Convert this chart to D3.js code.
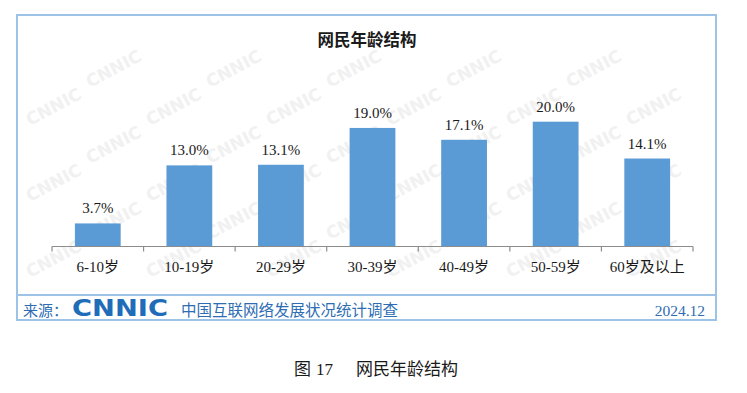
<!DOCTYPE html>
<html><head><meta charset="utf-8">
<script src="https://cdn.jsdelivr.net/npm/d3@7/dist/d3.min.js"></script>
<style>body{margin:0;background:#fff}svg{display:block}</style>
</head><body>
<svg id="c" width="747" height="393"></svg>
<script>
const categories = ["6-10岁","10-19岁","20-29岁","30-39岁","40-49岁","50-59岁","60岁及以上"];
const values = [3.7, 13.0, 13.1, 19.0, 17.1, 20.0, 14.1];
const title = "网民年龄结构";
const sourceLabel = "来源：";
const sourceName = "中国互联网络发展状况统计调查";
const dateLabel = "2024.12";
const captionParts = ["图", "17", "网民年龄结构"];

const svg = d3.select("#c");
const frame = {x0:17, y0:15, x1:716, y1:320, footY:295};

// watermark (decorative), only fully inside the frame
const wm = svg.append("g");
for (let r=0; r<9; r++){
  for (let c=0; c<7; c++){
    const wx = 30 + c*120 + (r%2)*60;
    const wy = 50 + r*38;
    if (wx < frame.x0+4 || wx+62 > frame.x1-4 || wy > frame.y1-6 || wy-36 < frame.y0+4) continue;
    wm.append("text").attr("transform",`translate(${wx},${wy}) rotate(-28)`)
      .attr("font-family","DejaVu Sans").attr("font-weight","bold").attr("font-size",17)
      .attr("fill","#f1f1f1").text("CNNIC");
  }
}

const x = d3.scaleBand().domain(categories).range([52, 693]).paddingInner(0.5).paddingOuter(0.25);
const xb = d3.scaleBand().domain(categories).range([52, 693]);
const y = d3.scaleLinear().domain([0, 20]).range([246.5, 121.7]);

// bars
svg.append("g").selectAll("rect").data(values).join("rect")
  .attr("x",(d,i)=>x(categories[i])).attr("width",x.bandwidth())
  .attr("y",d=>y(d)).attr("height",d=>y(0)-y(d)).attr("fill","#5b9bd5");

// value labels
svg.append("g").selectAll("text").data(values).join("text")
  .attr("x",(d,i)=>x(categories[i])+x.bandwidth()/2).attr("y",d=>y(d)-10)
  .attr("text-anchor","middle").attr("font-family","Liberation Serif, serif").attr("font-size",15)
  .attr("fill","#1a1a1a").text(d=>d.toFixed(1)+"%");

// axis
const ax = svg.append("g").attr("transform",`translate(0,${y(0)})`)
  .call(d3.axisBottom(xb).tickSize(0).tickFormat(""));
ax.select(".domain").attr("stroke","#8c8c8c").attr("stroke-width",1.2).attr("d","M52,0H693");
ax.selectAll(".tick").remove();
const bounds = categories.map(c=>xb(c)).concat([xb(categories[categories.length-1])+xb.bandwidth()]);
ax.selectAll("line.tk").data(bounds).join("line").attr("class","tk")
  .attr("x1",d=>d).attr("x2",d=>d).attr("y1",0).attr("y2",5).attr("stroke","#8c8c8c").attr("stroke-width",1.2);
ax.selectAll("text.cl").data(categories).join("text").attr("class","cl")
  .attr("x",d=>xb(d)+xb.bandwidth()/2).attr("y",25.5).attr("text-anchor","middle")
  .attr("font-family","Liberation Serif, Noto Sans CJK SC, serif").attr("font-size",15)
  .attr("fill","#1a1a1a").text(d=>d);

// title
svg.append("text").attr("x",367).attr("y",46).attr("text-anchor","middle")
  .attr("font-family","Noto Sans CJK SC").attr("font-weight","bold").attr("font-size",16.5)
  .attr("fill","#1a1a1a").text(title);

// frame
svg.append("rect").attr("x",frame.x0).attr("y",frame.y0).attr("width",frame.x1-frame.x0).attr("height",frame.y1-frame.y0)
  .attr("fill","none").attr("stroke","#9dc3e6").attr("stroke-width",2);
svg.append("line").attr("x1",frame.x0).attr("x2",frame.x1).attr("y1",frame.footY).attr("y2",frame.footY)
  .attr("stroke","#9dc3e6").attr("stroke-width",2);

// footer
const blue = "#2e6db4";
svg.append("text").attr("x",23).attr("y",316).attr("font-family","Noto Sans CJK SC").attr("font-size",15)
  .attr("fill",blue).text(sourceLabel);
svg.append("text").attr("x",72).attr("y",316).attr("font-family","DejaVu Sans").attr("font-weight","bold")
  .attr("font-size",23).attr("textLength",96).attr("lengthAdjust","spacingAndGlyphs")
  .attr("fill","#1f6db8").text("CNNIC");
svg.append("text").attr("x",181).attr("y",316).attr("font-family","Noto Sans CJK SC").attr("font-size",15.5)
  .attr("fill",blue).text(sourceName);
svg.append("text").attr("x",705).attr("y",316).attr("text-anchor","end").attr("font-family","Liberation Serif, serif")
  .attr("font-size",15.5).attr("fill",blue).text(dateLabel);

// caption
const cap = svg.append("g").attr("font-family","Noto Sans CJK SC").attr("font-size",17).attr("fill","#1a1a1a");
cap.append("text").attr("x",294).attr("y",375).text(captionParts[0]);
cap.append("text").attr("x",316).attr("y",375).attr("font-family","Liberation Serif, serif").text(captionParts[1]);
cap.append("text").attr("x",356).attr("y",375).text(captionParts[2]);
</script>
</body></html>
